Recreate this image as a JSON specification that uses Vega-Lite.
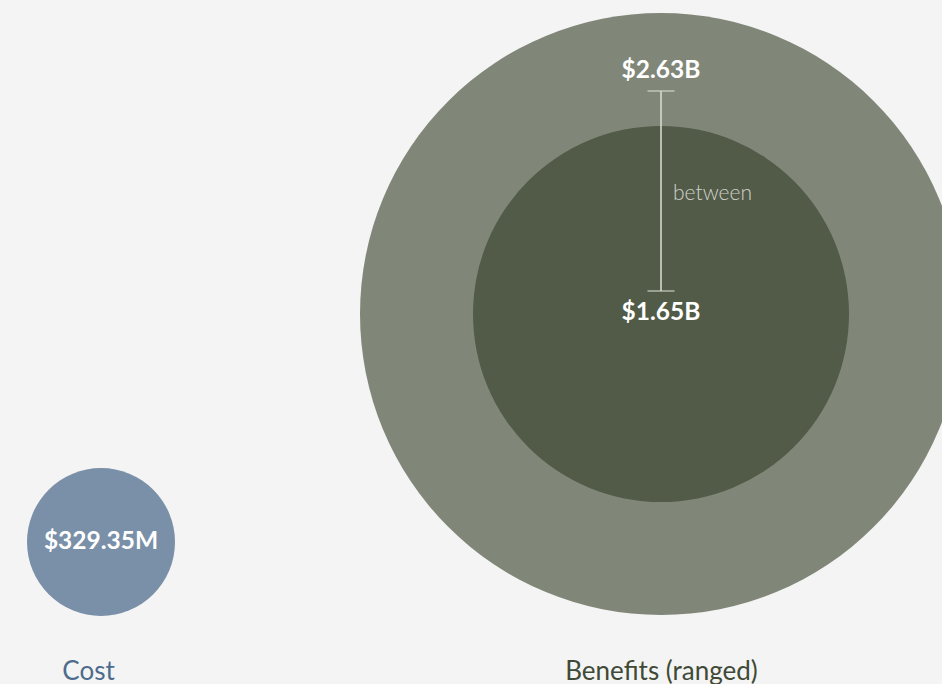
{
  "$schema": "https://vega.github.io/schema/vega-lite/v6.json",
  "width": 942,
  "height": 684,
  "autosize": "none",
  "padding": 0,
  "background": "#f4f4f4",
  "config": {"view": {"stroke": null}, "font": "Lato"},
  "datasets": {
    "circles": [
      {"group": "Benefits (ranged)", "bound": "high", "value": 2630},
      {"group": "Benefits (ranged)", "bound": "low", "value": 1650},
      {"group": "Cost", "bound": "cost", "value": 329.35}
    ],
    "labels": [
      {"group": "Benefits (ranged)", "bound": "high", "value": 2630, "label": "$2.63B"},
      {"group": "Benefits (ranged)", "bound": "low", "value": 1650, "label": "$1.65B"},
      {"group": "Cost", "bound": "cost", "value": 329.35, "label": "$329.35M"}
    ],
    "range": [
      {"group": "Benefits (ranged)", "lo": 1650, "hi": 2630, "note": "between"}
    ]
  },
  "encoding": {
    "x": {
      "field": "group",
      "type": "nominal",
      "sort": ["Cost", "Benefits (ranged)"],
      "scale": {"type": "point", "domain": ["Cost", "Benefits (ranged)"], "range": [101, 661], "padding": 0},
      "axis": {
        "orient": "bottom",
        "offset": -24,
        "domain": false,
        "ticks": false,
        "tickSize": 0,
        "labelPadding": 11,
        "labelBaseline": "middle",
        "labelAngle": 0,
        "labelLimit": 0,
        "labelFont": "Lato",
        "labelFontSize": 26,
        "labelFontWeight": "normal",
        "labelOffset": {"condition": {"test": "datum.value == 'Cost'", "value": -13}, "value": 0},
        "labelColor": {"condition": {"test": "datum.value == 'Cost'", "value": "#4d6c8d"}, "value": "#3f4a36"},
        "title": null,
        "grid": false
      }
    }
  },
  "layer": [
    {
      "data": {"name": "circles"},
      "mark": {"type": "circle", "opacity": 1, "clip": true, "strokeWidth": 0},
      "encoding": {
        "y": {"field": "group", "type": "nominal", "scale": {"type": "point", "domain": ["Cost", "Benefits (ranged)"], "range": [542, 314], "padding": 0}, "axis": null},
        "size": {"field": "value", "type": "quantitative", "scale": {"type": "linear", "domain": [329.35, 1650, 2630], "range": [21904, 141376, 362404]}, "legend": null},
        "color": {"field": "bound", "type": "nominal", "scale": {"domain": ["high", "low", "cost"], "range": ["#808778", "#525b47", "#7a8fa8"]}, "legend": null}
      }
    },
    {
      "data": {"name": "range"},
      "mark": {"type": "rule", "color": "#dcded6", "strokeWidth": 1.5},
      "encoding": {
        "y": {"field": "hi", "type": "quantitative", "scale": {"domain": [1650, 2630], "range": [291, 91]}, "axis": null},
        "y2": {"field": "lo"}
      }
    },
    {
      "data": {"name": "range"},
      "mark": {"type": "tick", "color": "#dcded6", "thickness": 1.5, "size": 27, "orient": "horizontal"},
      "encoding": {
        "y": {"field": "hi", "type": "quantitative", "scale": {"domain": [1650, 2630], "range": [291, 91]}, "axis": null}
      }
    },
    {
      "data": {"name": "range"},
      "mark": {"type": "tick", "color": "#dcded6", "thickness": 1.5, "size": 27, "orient": "horizontal"},
      "encoding": {
        "y": {"field": "lo", "type": "quantitative", "scale": {"domain": [1650, 2630], "range": [291, 91]}, "axis": null}
      }
    },
    {
      "data": {"name": "range"},
      "mark": {"type": "text", "align": "left", "baseline": "middle", "dx": 12, "dy": 103, "fontSize": 21, "fontWeight": 300, "color": "#cfd1cb"},
      "encoding": {
        "y": {"field": "hi", "type": "quantitative", "scale": {"domain": [1650, 2630], "range": [291, 91]}, "axis": null},
        "text": {"field": "note"}
      }
    },
    {
      "data": {"name": "labels"},
      "mark": {"type": "text", "align": "center", "baseline": "middle", "fontWeight": "bold", "color": "#ffffff", "fontSize": 24.5},
      "encoding": {
        "y": {"field": "value", "type": "quantitative", "scale": {"type": "linear", "domain": [329.35, 1650, 2630], "range": [542, 313, 71]}, "axis": null},
        "text": {"field": "label"}
      }
    }
  ],
  "resolve": {"scale": {"y": "independent"}}
}
